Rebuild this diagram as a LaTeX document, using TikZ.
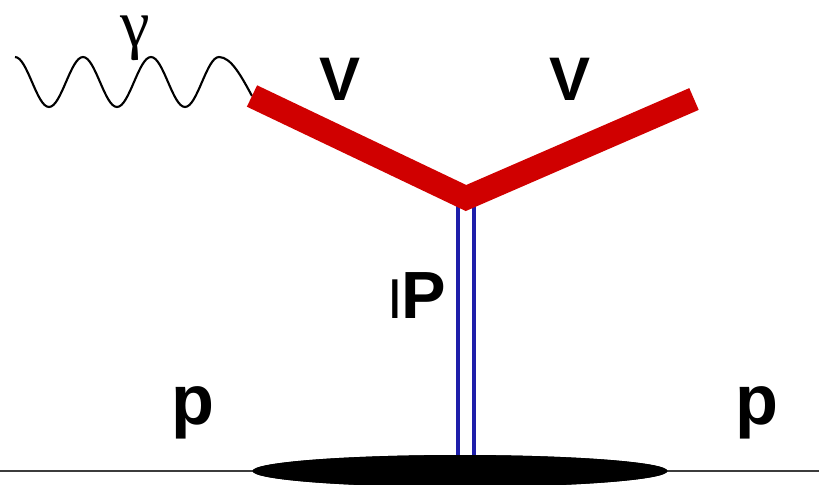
\documentclass[tikz,border=0pt]{standalone}
\usepackage{fontspec}
\usepackage{tikz}
\usetikzlibrary{
  shapes.geometric,
  calc
}
\newfontfamily\labelfont{Liberation Sans}
\newfontfamily\greekfont{Liberation Serif}
\definecolor{vmred}{RGB}{208,0,0}
\definecolor{pomblue}{RGB}{30,30,170}
\definecolor{protongray}{RGB}{60,60,60}

\tikzset{
  lbl/.style={anchor=base, inner sep=0pt},
  photonline/.style={line width=1.2pt, black},
  vmline/.style={line width=13.5pt, vmred, line join=miter, line cap=butt},
  pomeron/.style={line width=2pt, pomblue, double=white, double distance=7.1pt},
  protonline/.style={line width=1.1pt, protongray},
  blob/.style={ellipse, fill=black, inner sep=0pt, minimum width=8.3cm, minimum height=0.64cm}
}

\begin{document}
\begin{tikzpicture}[x=0.02cm, y=-0.02cm, font=\labelfont\bfseries]
  \useasboundingbox (0,0) rectangle (819,484);
  % points of the diagram
  \coordinate (gstart) at (15,57);
  \coordinate (vin) at (252,96);
  \coordinate (vtx) at (466,198);
  \coordinate (vout) at (694,99);
  \coordinate (pin) at (0,471);
  \coordinate (pout) at (819,471);

  % proton line
  \draw[protonline] (pin) -- (pout);
  \node[blob] (blob) at (460,471) {};
  \draw[pomeron] (vtx) -- (vtx |- blob.north);
  \node[blob] at (blob.center) {};

  % photon
  \draw[photonline] (gstart)
    foreach \k in {1,2,3} {cos ++(17,25) sin ++(17,25) cos ++(17,-25) sin ++(17,-25)}
    cos (vin);

  % vector mesons
  \draw[vmline] (vin) -- (vtx) -- (vout);

  % labels
  \node[lbl, font=\greekfont\fontsize{38}{38}\selectfont] (gam) at (135,46) {γ};
  \node[lbl, font=\labelfont\bfseries\fontsize{35}{35}\selectfont] (vleft) at (340,100) {V};
  \node[lbl, font=\labelfont\bfseries\fontsize{35}{35}\selectfont] (vright) at (570,100) {V};
  \node[lbl, font=\labelfont\bfseries\fontsize{38}{38}\selectfont] (pom) at (417,318) {{\mdseries\fontsize{32}{32}\selectfont I}\kern-1pt P};
  \node[lbl, font=\labelfont\bfseries\fontsize{40}{40}\selectfont] (pleft) at (193,424) {p};
  \node[lbl, font=\labelfont\bfseries\fontsize{40}{40}\selectfont] (pright) at (757,424) {p};
\end{tikzpicture}
\end{document}
